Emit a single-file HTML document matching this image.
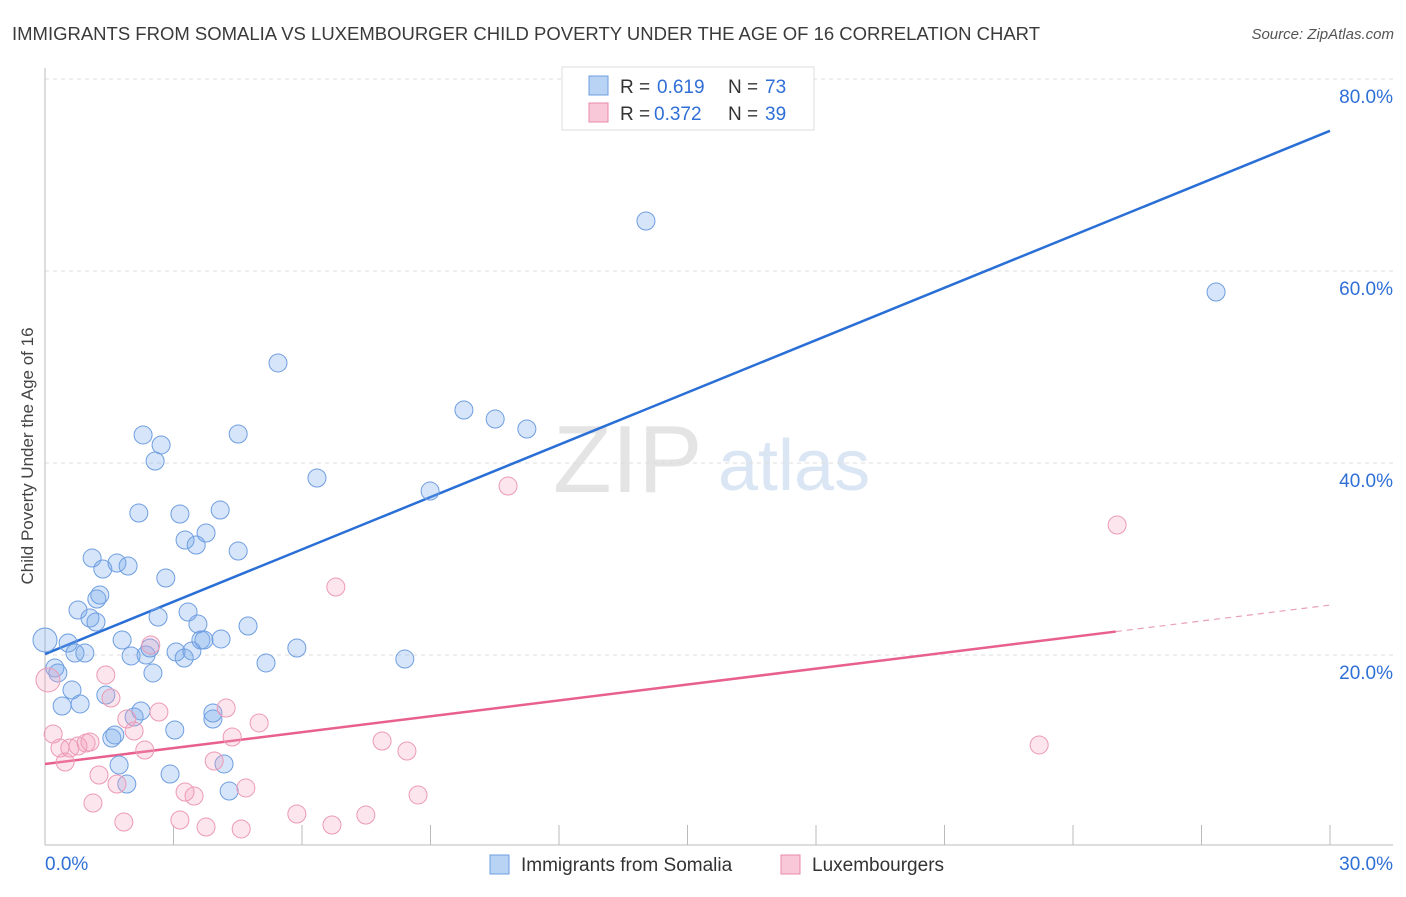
<!DOCTYPE html>
<html><head><meta charset="utf-8"><style>
body{margin:0;background:#fff;font-family:"Liberation Sans",sans-serif}
svg text{font-family:"Liberation Sans",sans-serif}
</style></head><body>
<svg id="chart" width="1406" height="892" xmlns="http://www.w3.org/2000/svg">
<text x="12" y="40" font-size="18" fill="#3a3a3a" textLength="1028" lengthAdjust="spacingAndGlyphs">IMMIGRANTS FROM SOMALIA VS LUXEMBOURGER CHILD POVERTY UNDER THE AGE OF 16 CORRELATION CHART</text>
<text x="1394" y="39" font-size="15" fill="#555" text-anchor="end" font-style="italic">Source: ZipAtlas.com</text>
<g>
<text x="553" y="492" font-size="96" font-family="Liberation Serif,serif" fill="#e4e4e4">ZIP</text>
<text x="718" y="490" font-size="72" fill="#dbe6f4">atlas</text>
</g>
<g id="grid"></g>
<g id="axes"></g>
<g id="lines"></g>
<g id="pts"></g>
<g>
<rect x="562" y="67" width="252" height="63" fill="#fff" stroke="#ddd"/>
<rect x="589" y="76" width="19" height="19" fill="#b8d3f3" stroke="#6e9ee0"/>
<rect x="589" y="103" width="19" height="19" fill="#f8c8d8" stroke="#e88aa8"/>
<text y="93" font-size="19" fill="#333"><tspan x="620">R =</tspan><tspan x="657" fill="#2f6fd6">0.619</tspan><tspan x="728">N =</tspan><tspan x="765" fill="#2f6fd6">73</tspan></text>
<text y="120" font-size="19" fill="#333"><tspan x="620">R =</tspan><tspan x="654" fill="#2f6fd6">0.372</tspan><tspan x="728">N =</tspan><tspan x="765" fill="#2f6fd6">39</tspan></text>
</g>
<g>
<rect x="490" y="855" width="19" height="19" fill="#b8d3f3" stroke="#6e9ee0"/>
<text x="521" y="871" font-size="19" fill="#333">Immigrants from Somalia</text>
<rect x="781" y="855" width="19" height="19" fill="#f8c8d8" stroke="#e88aa8"/>
<text x="812" y="871" font-size="19" fill="#333">Luxembourgers</text>
</g>
<text transform="translate(33,456) rotate(-90)" font-size="17" fill="#444" text-anchor="middle">Child Poverty Under the Age of 16</text>
</svg>
<script>
const blueX=[0,0.23,0.30,0.54,0.63,0.40,0.82,0.70,0.93,0.77,1.05,1.19,1.21,1.28,1.10,1.35,1.68,1.94,1.80,2.01,1.42,1.56,1.63,1.73,1.91,2.08,2.24,2.19,2.29,2.57,2.71,2.64,2.82,2.36,2.45,2.52,3.03,2.92,3.06,3.15,3.27,3.25,3.34,3.43,3.53,3.57,3.64,3.71,3.76,3.92,3.92,4.09,4.11,4.18,4.30,4.51,4.51,4.74,5.16,5.44,5.88,6.35,8.40,8.99,9.78,10.51,11.25,14.03,27.34];
const blueY=[21.56,18.65,18.13,21.25,16.35,14.69,14.90,20.21,20.21,24.69,23.85,23.44,25.83,26.25,30.10,28.96,29.58,29.27,21.56,19.90,15.83,11.35,11.67,8.54,6.56,13.54,14.17,34.79,42.92,40.21,41.88,23.96,28.02,20.0,20.73,18.13,12.19,7.60,20.31,34.69,31.98,19.69,24.48,20.42,31.46,23.23,21.56,21.56,32.71,13.33,13.96,35.10,21.67,8.65,5.83,30.83,43.02,23.02,19.17,50.42,20.73,38.44,19.58,37.08,45.52,44.58,43.54,65.21,57.81];
const pinkX=[0.07,0.19,0.35,0.47,0.58,0.77,0.96,1.05,1.26,1.12,1.42,1.54,1.68,1.84,1.91,2.08,2.33,2.47,2.66,3.15,3.27,3.48,3.76,3.95,4.23,4.37,4.58,4.69,5.00,5.88,6.70,6.79,7.49,7.87,8.45,8.71,10.81,23.21,25.03];
const pinkY=[17.40,11.77,10.31,8.85,10.31,10.52,10.83,10.94,7.50,4.58,17.92,15.52,6.56,2.60,13.33,12.08,10.10,21.04,14.06,2.81,5.73,5.31,2.08,8.96,14.48,11.46,1.88,6.15,12.92,3.44,2.29,27.08,3.33,11.04,10.00,5.42,37.60,10.63,33.54];
const blueTrend=[20.1,74.6];
const pinkTrend=[8.65,25.2];
const yTicks=[20,40,60,80];
const xTickLabels=["0.0%","30.0%"];
const NS="http://www.w3.org/2000/svg";
const X=v=>45+v/30*1285, Y=v=>847-v/20*192;
function mk(tag,attrs,parent){const e=document.createElementNS(NS,tag);for(const k in attrs)e.setAttribute(k,attrs[k]);document.getElementById(parent).appendChild(e);return e;}
yTicks.forEach(t=>{
 const l=mk('line',{x1:45,x2:1393,y1:Y(t),y2:Y(t),stroke:'#ddd','stroke-dasharray':'4,4'},'grid');
 
 
 const tx=mk('text',{x:1393,y:Y(t)+24,'font-size':19,fill:'#2f6fd6','text-anchor':'end'},'grid');
 tx.textContent=t+'.0%';
 
 
});
mk('line',{x1:45,x2:45,y1:68,y2:845,stroke:'#bbb'},'axes');
mk('line',{x1:45,x2:1393,y1:845,y2:845,stroke:'#bbb'},'axes');
for(let i=0;i<=10;i++){const t=mk('line',{x1:X(i*3),x2:X(i*3),y1:825,y2:845,stroke:'#bbb'},'axes');
 
 }
[[0,'start',45],[30,'end',1393]].forEach((d,i)=>{const t=mk('text',{x:d[2],y:870,'font-size':19,fill:'#2f6fd6','text-anchor':d[1]},'axes');t.textContent=xTickLabels[i];
 
 });
function pts(xs,ys,fill,stroke,name){xs.forEach((x,i)=>{const c=mk('circle',{cx:X(x),cy:Y(ys[i]),r:(i==0?12:9),fill:fill,stroke:stroke,'stroke-width':1},'pts');
 
 });}
pts(blueX,blueY,'rgba(120,170,235,0.3)','#6f9ee0','somalia-point');
pts(pinkX,pinkY,'rgba(245,160,190,0.28)','#ec9ab6','luxembourger-point');
const bl=mk('line',{x1:X(0),y1:Y(blueTrend[0]),x2:X(30),y2:Y(blueTrend[1]),stroke:'#2a6fd6','stroke-width':2.5},'lines');


const pe=25, py=pinkTrend[0]+(pinkTrend[1]-pinkTrend[0])*pe/30;
const pl=mk('line',{x1:X(0),y1:Y(pinkTrend[0]),x2:X(pe),y2:Y(py),stroke:'#e8608e','stroke-width':2.5},'lines');


const pd=mk('line',{x1:X(pe),y1:Y(py),x2:X(30),y2:Y(pinkTrend[1]),stroke:'#e8a0b8','stroke-width':1.2,'stroke-dasharray':'6,5'},'lines');


</script>
</body></html>
